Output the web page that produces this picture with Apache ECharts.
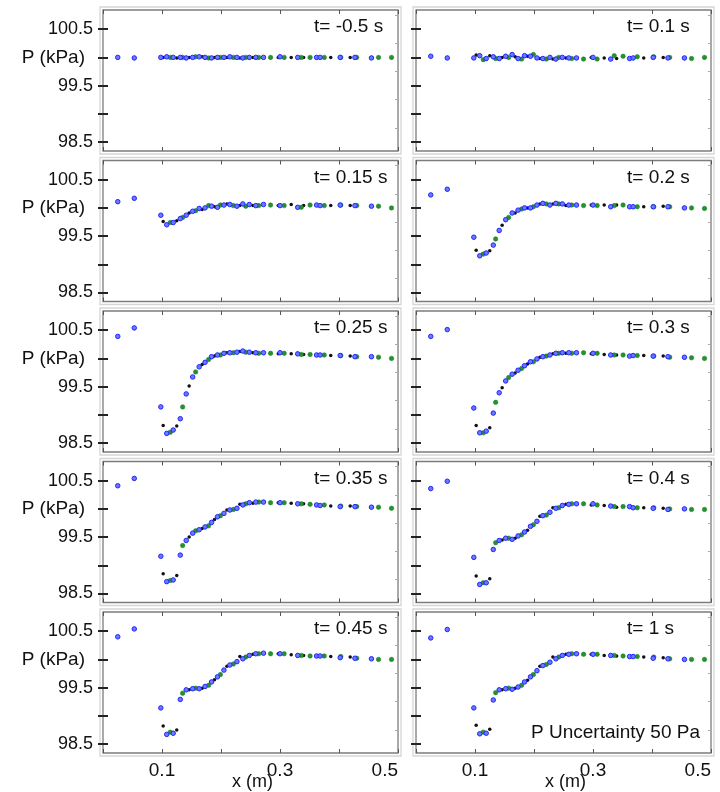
<!DOCTYPE html>
<html><head><meta charset="utf-8">
<script src="https://cdn.jsdelivr.net/npm/echarts@6/dist/echarts.min.js"></script>
<style>html,body{margin:0;padding:0;background:#fff}#c{width:720px;height:792px}</style>
</head><body><div id="c"></div>
<script>
// ---- data ----
const xBlue  = [0.025,0.053,0.098,0.108,0.119,0.131,0.141,0.152,0.163,0.173,0.184,0.194,0.205,0.215,0.227,0.237,0.248,0.259,0.272,0.300,0.330,0.362,0.368,0.402,0.427,0.455];
const xBlack = [0.102,0.125,0.146,0.168,0.189,0.210,0.232,0.254,0.297,0.319,0.340,0.386,0.419,0.455];
const xGreen = [0.114,0.135,0.157,0.179,0.199,0.221,0.242,0.264,0.284,0.307,0.336,0.351,0.375,0.403,0.430,0.467,0.489];

const panelTitles = ['t= -0.5 s','t= 0.1 s','t= 0.15 s','t= 0.2 s','t= 0.25 s','t= 0.3 s','t= 0.35 s','t= 0.4 s','t= 0.45 s','t= 1 s'];
const xTickLabels = [0.1, 0.3, 0.5];
const yTickLabels = [98.5, 99.5, 100, 100.5];
const xAxisTitle = 'x (m)';

const blue_n050  = [100.0,99.99,100.0,100.01,100.0,100.0,99.99,100.0,100.01,100.0,99.99,100.0,100.0,100.01,100.0,99.99,100.0,100.0,100.0,100.01,100.0,100.0,100.0,100.0,100.0,99.99];
const black_n050 = [100.0,99.99,100.0,100.01,100.0,100.0,99.99,100.0,100.0,100.0,100.0,100.0,100.0,100.0];
const green_n050 = [100.0,100.0,100.01,99.99,100.0,100.0,100.0,100.0,100.0,100.0,100.0,100.0,100.0,100.0,100.0,100.0,100.0];

const blue_010  = [100.02,99.99,99.99,100.03,99.98,100.01,99.98,100.02,100.05,99.98,100.03,100.02,99.99,99.98,100.0,99.97,100.0,99.99,99.99,100.0,99.97,99.98,99.99,100.0,99.99,99.99];
const black_010 = [100.04,100.03,100.0,100.01,100.02,99.98,99.97,99.99,100.0,99.99,99.98,99.99,100.0,99.98];
const green_010 = [99.96,99.98,100.0,99.97,100.05,99.97,100.0,99.98,99.97,99.97,100.03,100.02,100.01,100.01,100.0,99.98,100.0];

const blue_015  = [100.11,100.17,99.87,99.70,99.74,99.81,99.87,99.94,99.99,100.0,100.03,100.01,100.05,100.06,100.03,100.07,100.06,100.04,100.06,100.04,100.01,100.05,100.04,100.05,100.04,100.03];
const black_015 = [99.76,99.77,99.91,99.97,100.02,100.07,100.04,100.04,100.04,100.06,100.04,100.04,100.04,100.03];
const green_015 = [99.74,99.83,99.95,100.04,100.05,100.04,100.03,100.04,100.05,100.04,100.01,100.05,100.04,100.05,100.04,100.03,100.0];

const blue_020  = [100.23,100.33,99.48,99.15,99.20,99.34,99.60,99.79,99.91,99.96,100.0,100.0,100.05,100.08,100.05,100.08,100.07,100.05,100.05,100.05,100.02,100.02,100.02,100.02,100.02,100.0];
const black_020 = [99.25,99.24,99.69,99.91,100.0,100.07,100.07,100.04,100.05,100.05,100.05,100.02,100.03,100.0];
const green_020 = [99.18,99.45,99.83,99.98,100.02,100.07,100.07,100.05,100.04,100.04,100.04,100.05,100.02,100.02,100.02,100.0,99.99];

const blue_025  = [100.39,100.54,99.14,98.67,98.73,98.93,99.37,99.67,99.85,99.93,100.03,100.06,100.09,100.10,100.11,100.13,100.11,100.10,100.10,100.10,100.08,100.06,100.06,100.05,100.03,100.03];
const black_025 = [98.81,98.80,99.51,99.89,100.04,100.10,100.12,100.10,100.08,100.08,100.07,100.05,100.04,100.03];
const green_025 = [98.69,99.14,99.76,99.98,100.06,100.10,100.11,100.09,100.09,100.09,100.07,100.07,100.06,100.05,100.03,100.02,100.0];

const blue_030  = [100.39,100.51,99.12,98.68,98.71,99.03,99.39,99.60,99.72,99.79,99.87,99.94,99.99,100.03,100.06,100.09,100.10,100.10,100.10,100.09,100.06,100.04,100.05,100.04,100.03,100.02];
const black_030 = [98.81,98.77,99.48,99.74,99.90,100.02,100.08,100.09,100.08,100.07,100.06,100.05,100.04,100.01];
const green_030 = [98.68,99.22,99.66,99.82,99.94,100.04,100.09,100.09,100.10,100.09,100.06,100.06,100.05,100.04,100.02,100.01,100.0];

const blue_035  = [100.41,100.54,99.16,98.71,98.74,99.18,99.44,99.57,99.63,99.68,99.76,99.86,99.92,99.98,100.01,100.07,100.11,100.12,100.12,100.11,100.09,100.07,100.06,100.04,100.04,100.03];
const black_035 = [98.85,98.82,99.50,99.65,99.81,99.98,100.08,100.10,100.11,100.10,100.09,100.05,100.05,100.03];
const green_035 = [98.73,99.35,99.61,99.70,99.88,99.99,100.09,100.12,100.11,100.11,100.09,100.08,100.07,100.05,100.04,100.03,100.01];

const blue_040  = [100.36,100.49,99.14,98.66,98.69,99.28,99.44,99.48,99.46,99.52,99.59,99.69,99.78,99.88,99.94,100.01,100.06,100.08,100.09,100.09,100.05,100.04,100.02,100.01,99.99,100.0];
const black_040 = [98.81,98.76,99.45,99.48,99.62,99.87,100.02,100.08,100.07,100.06,100.03,100.02,100.01,100.0];
const green_040 = [98.69,99.40,99.48,99.54,99.72,99.89,100.02,100.09,100.09,100.07,100.04,100.04,100.02,100.02,100.0,99.99,99.99];

const blue_045  = [100.40,100.54,99.14,98.67,98.69,99.29,99.46,99.48,99.48,99.52,99.60,99.69,99.81,99.90,99.96,100.01,100.07,100.10,100.11,100.10,100.07,100.06,100.06,100.03,100.02,100.01];
const black_045 = [98.82,98.75,99.46,99.49,99.64,99.88,100.05,100.09,100.10,100.08,100.07,100.05,100.04,100.01];
const green_045 = [98.71,99.40,99.49,99.54,99.73,99.92,100.04,100.10,100.10,100.10,100.07,100.06,100.06,100.05,100.02,100.0,100.0];

const blue_100  = [100.38,100.53,99.14,98.68,98.69,99.28,99.46,99.48,99.47,99.51,99.60,99.69,99.80,99.89,99.95,100.01,100.07,100.09,100.10,100.09,100.07,100.05,100.05,100.02,100.01,100.0];
const black_100 = [98.83,98.76,99.46,99.49,99.63,99.88,100.04,100.09,100.09,100.07,100.06,100.04,100.03,100.0];
const green_100 = [98.71,99.41,99.49,99.54,99.73,99.91,100.04,100.10,100.09,100.09,100.07,100.06,100.05,100.04,100.01,100.0,100.0];

const panelBlue  = [blue_n050, blue_010, blue_015, blue_020, blue_025, blue_030, blue_035, blue_040, blue_045, blue_100];
const panelBlack = [black_n050, black_010, black_015, black_020, black_025, black_030, black_035, black_040, black_045, black_100];
const panelGreen = [green_n050, green_010, green_015, green_020, green_025, green_030, green_035, green_040, green_045, green_100];

// ---- layout ----
const colX = [103, 416], gridW = 295, gridH = 141, rowTop0 = 10, rowPitch = 150.5;
const yMin = 98.34, yMax = 100.84;
const FONT = "'Liberation Sans', Arial, sans-serif";
const FS = 18;

const zip = (xs, ys) => xs.map((x, k) => [x, ys[k]]);

const grids = [], xAxes = [], yAxes = [], series = [], graphics = [];
for (let i = 0; i < 10; i++) {
  const col = i % 2, row = Math.floor(i / 2);
  const top = rowTop0 + row * rowPitch, left = colX[col];
  grids.push({left: left, top: top, width: gridW, height: gridH, show: true,
    borderColor: '#7c7c7c', borderWidth: 1.3, backgroundColor: 'transparent',
    containLabel: false, outerBoundsMode: 'none'});
  graphics.push({type: 'rect', silent: true, z: 0,
    shape: {x: left - 3, y: top - 3, width: gridW + 6, height: gridH + 6},
    style: {fill: 'none', stroke: '#d6d6d6', lineWidth: 1.3}});
  const last = row === 4;
  const xBase = {gridIndex: i, type: 'value', min: 0, max: 0.5, interval: 0.1,
    axisLine: {show: false}, splitLine: {show: false},
    axisTick: {show: true, inside: true, length: 4, lineStyle: {color: '#555', width: 1}}};
  xAxes.push(Object.assign({}, xBase, {position: 'bottom',
    axisLabel: {show: last, customValues: xTickLabels, fontSize: FS + 1, fontFamily: FONT, color: '#111', margin: 8, alignMaxLabel: 'right'}}));
  xAxes.push(Object.assign({}, xBase, {position: 'top', axisLabel: {show: false}}));
  const yBase = {gridIndex: i, type: 'value', min: yMin, max: yMax,
    axisLine: {show: false}, splitLine: {show: false}};
  yAxes.push(Object.assign({}, yBase, {position: 'left',
    axisTick: {show: true, inside: true, length: 5, customValues: [98.5, 99, 99.5, 100, 100.5], lineStyle: {color: '#222', width: 2}},
    axisLabel: {show: col === 0, customValues: yTickLabels, margin: 10, fontSize: FS, fontFamily: FONT, color: '#111',
      formatter: v => (Math.abs(v - 100) < 1e-6 ? '{p|P (kPa)}' : v.toFixed(1)),
      rich: {p: {fontSize: FS + 1, fontFamily: FONT, color: '#111', padding: [0, 8, 0, 0]}}}}));
  yAxes.push(Object.assign({}, yBase, {position: 'right',
    axisTick: {show: true, inside: true, length: 5, customValues: [98.5, 99, 99.5, 100, 100.5], lineStyle: {color: '#222', width: 2}},
    axisLabel: {show: false}}));
  yAxes.push(Object.assign({}, yBase, {position: 'right',
    axisTick: {show: true, inside: true, length: 3, customValues: [98.75, 99.25, 99.75, 100.25, 100.75], lineStyle: {color: '#aaa', width: 1}},
    axisLabel: {show: false}}));

  series.push({type: 'scatter', xAxisIndex: 2 * i, yAxisIndex: 3 * i, data: zip(xBlack, panelBlack[i]),
    symbol: 'circle', symbolSize: 3.5, itemStyle: {color: '#111', opacity: 1}, z: 3});
  series.push({type: 'scatter', xAxisIndex: 2 * i, yAxisIndex: 3 * i, data: zip(xGreen, panelGreen[i]),
    symbol: 'circle', symbolSize: 4.5, itemStyle: {color: '#23932c', borderColor: '#187a20', borderWidth: 0.5, opacity: 1}, z: 4});
  series.push({type: 'scatter', xAxisIndex: 2 * i, yAxisIndex: 3 * i, data: zip(xBlue, panelBlue[i]),
    symbol: 'circle', symbolSize: 4.5, itemStyle: {color: '#6e78ff', borderColor: '#1f26ff', borderWidth: 1, opacity: 1}, z: 5});

  graphics.push({type: 'text', silent: true, z: 10, x: left + 211, y: top + 17,
    style: {text: panelTitles[i], font: (FS + 1) + 'px ' + FONT, fill: '#111', textAlign: 'left', textVerticalAlign: 'middle'}});
  if (last) {
    graphics.push({type: 'text', silent: true, z: 10, x: left + gridW / 2 + 2, y: 782,
      style: {text: xAxisTitle, font: FS + 'px ' + FONT, fill: '#111', textAlign: 'center', textVerticalAlign: 'middle'}});
  }
}
graphics.push({type: 'text', silent: true, z: 10, x: 700, y: 733,
  style: {text: 'P Uncertainty 50 Pa', font: (FS + 1) + 'px ' + FONT, fill: '#111', textAlign: 'right', textVerticalAlign: 'middle'}});

const chart = echarts.init(document.getElementById('c'), null, {renderer: 'canvas'});
chart.setOption({
  animation: false,
  backgroundColor: '#fff',
  textStyle: {fontFamily: FONT},
  grid: grids, xAxis: xAxes, yAxis: yAxes, series: series, graphic: graphics
});
</script></body></html>
